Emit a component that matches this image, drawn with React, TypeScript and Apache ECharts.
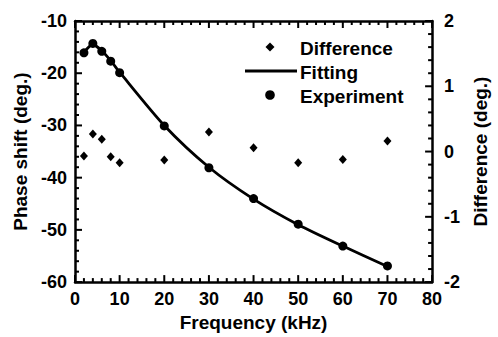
import React, { useEffect, useRef } from "react";
import * as echarts from "echarts";

const freq = [2, 4, 6, 8, 10, 20, 30, 40, 50, 60, 70];
const experiment = [-16.1, -14.3, -15.8, -17.7, -19.9, -30.1, -38.1, -44.0, -48.9, -53.1, -56.9];
const fitting = [-16.0, -14.5, -15.7, -17.6, -19.8, -30.0, -38.0, -44.1, -49.0, -53.1, -57.0];
const difference = [-0.07, 0.27, 0.19, -0.08, -0.17, -0.13, 0.3, 0.06, -0.17, -0.12, 0.16];
const legendNames = ["Difference", "Fitting", "Experiment"];

const FONT = '"Liberation Sans", Arial, Helvetica, sans-serif';

// tick positions (major + minor) for the frame
const xTickValues: number[] = [];
for (let v = 0; v <= 80; v += 2) xTickValues.push(v);
const leftTickValues: number[] = [];
for (let v = -60; v <= -10; v += 2) leftTickValues.push(v);
const rightTickValues: number[] = [];
for (let i = -10; i <= 10; i++) rightTickValues.push(i / 5);

const axisLine = () => ({ show: true, onZero: false, lineStyle: { color: "#000", width: 2.5 } });

export default function App() {
  const ref = useRef<HTMLDivElement>(null);
  useEffect(() => {
    document.body.style.margin = "0";
    const chart = echarts.init(ref.current!, null, { renderer: "svg" });
    const labelStyle = { color: "#000", fontFamily: FONT, fontWeight: "bold" as const, fontSize: 18 };
    const nameStyle = { color: "#000", fontFamily: FONT, fontWeight: "bold" as const, fontSize: 19 };

    const MAJOR = 7;
    const MINOR = 4;
    // side: 0 bottom, 1 top, 2 left, 3 right
    const tickData1: number[][] = [];
    xTickValues.forEach((v) => {
      tickData1.push([v, -60, 0]);
      tickData1.push([v, -10, 1]);
    });
    leftTickValues.forEach((v) => tickData1.push([0, v, 2]));
    const tickData2: number[][] = rightTickValues.map((v) => [80, v, 3]);

    const renderTick = (_params: any, api: any) => {
      const xv = api.value(0);
      const yv = api.value(1);
      const side = api.value(2);
      const p = api.coord([xv, yv]);
      let major: boolean;
      if (side <= 1) major = Math.abs(xv / 10 - Math.round(xv / 10)) < 1e-6;
      else if (side === 2) major = Math.abs(yv / 10 - Math.round(yv / 10)) < 1e-6;
      else major = Math.abs(yv - Math.round(yv)) < 1e-6;
      const len = major ? MAJOR : MINOR;
      let x2 = p[0];
      let y2 = p[1];
      if (side === 0) y2 -= len;
      else if (side === 1) y2 += len;
      else if (side === 2) x2 += len;
      else x2 -= len;
      return {
        type: "line",
        shape: { x1: p[0], y1: p[1], x2, y2 },
        style: { stroke: "#000", lineWidth: 2 },
      };
    };

    chart.setOption({
      animation: false,
      grid: { left: 75, right: 55, top: 21, bottom: 52 },
      xAxis: [
        {
          type: "value", min: 0, max: 80, interval: 10, position: "bottom",
          name: "Frequency (kHz)", nameLocation: "middle", nameGap: 28, nameTextStyle: nameStyle,
          axisLine: axisLine(), axisTick: { show: false }, minorTick: { show: false },
          splitLine: { show: false }, axisLabel: { ...labelStyle, margin: 8 },
        },
        {
          type: "value", min: 0, max: 80, interval: 10, position: "top",
          axisLine: axisLine(), axisTick: { show: false }, minorTick: { show: false },
          splitLine: { show: false }, axisLabel: { show: false },
        },
      ],
      yAxis: [
        {
          type: "value", min: -60, max: -10, interval: 10, position: "left",
          name: "Phase shift (deg.)", nameLocation: "middle", nameGap: 44, nameRotate: 90, nameTextStyle: nameStyle,
          axisLine: axisLine(), axisTick: { show: false }, minorTick: { show: false },
          splitLine: { show: false }, axisLabel: { ...labelStyle, margin: 8 },
        },
        {
          type: "value", min: -2, max: 2, interval: 1, position: "right",
          name: "Difference (deg.)", nameLocation: "middle", nameGap: 35, nameRotate: 90, nameTextStyle: nameStyle,
          axisLine: axisLine(), axisTick: { show: false }, minorTick: { show: false },
          splitLine: { show: false }, axisLabel: { ...labelStyle, margin: 12 },
        },
      ],
      series: [
        {
          type: "custom", xAxisIndex: 0, yAxisIndex: 0, clip: false, silent: true,
          encode: { x: 0, y: 1 }, renderItem: renderTick, data: tickData1, z: 1,
        },
        {
          type: "custom", xAxisIndex: 0, yAxisIndex: 1, clip: false, silent: true,
          encode: { x: 0, y: 1 }, renderItem: renderTick, data: tickData2, z: 1,
        },
        {
          name: legendNames[0], type: "scatter", yAxisIndex: 1, symbol: "diamond", symbolSize: [8, 9],
          itemStyle: { color: "#000", opacity: 1 },
          data: freq.map((f, i) => [f, difference[i]]), z: 3,
        },
        {
          name: legendNames[1], type: "line", showSymbol: false, smooth: 0.25,
          lineStyle: { color: "#000", width: 2.8 },
          data: freq.map((f, i) => [f, fitting[i]]), z: 2,
        },
        {
          name: legendNames[2], type: "scatter", symbol: "circle", symbolSize: 9,
          itemStyle: { color: "#000", opacity: 1 },
          data: freq.map((f, i) => [f, experiment[i]]), z: 4,
        },
      ],
      graphic: [
        { type: "polygon", shape: { points: [[270, 42.5], [274.5, 47], [270, 51.5], [265.5, 47]] }, style: { fill: "#000" } },
        { type: "line", shape: { x1: 245, y1: 71, x2: 297, y2: 71 }, style: { stroke: "#000", lineWidth: 2.8 } },
        { type: "circle", shape: { cx: 270, cy: 95, r: 4.8 }, style: { fill: "#000" } },
        { type: "text", x: 300, y: 48, style: { text: legendNames[0], font: `bold 19px ${FONT}`, fill: "#000", verticalAlign: "middle" } },
        { type: "text", x: 300, y: 72, style: { text: legendNames[1], font: `bold 19px ${FONT}`, fill: "#000", verticalAlign: "middle" } },
        { type: "text", x: 300, y: 96, style: { text: legendNames[2], font: `bold 19px ${FONT}`, fill: "#000", verticalAlign: "middle" } },
      ],
    });
    return () => chart.dispose();
  }, []);
  return <div ref={ref} style={{ width: 498, height: 337 }} />;
}
